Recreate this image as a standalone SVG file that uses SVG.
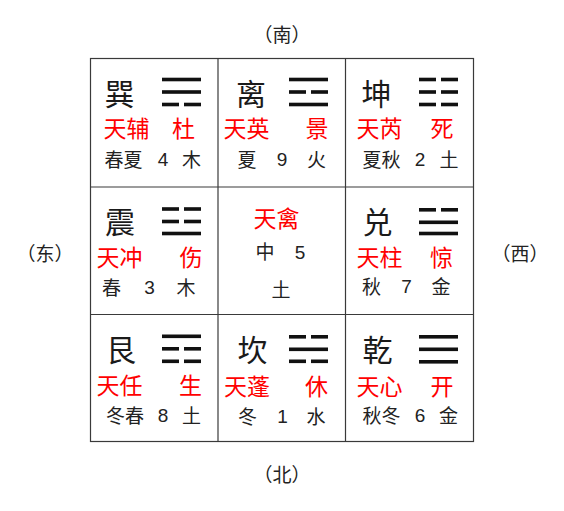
<svg xmlns="http://www.w3.org/2000/svg" xmlns:xlink="http://www.w3.org/1999/xlink" width="564" height="511" viewBox="0 0 564 511">
<style>
text{font-family:"Noto Sans CJK SC","Noto Sans CJK JP",sans-serif;text-anchor:middle}
.big{font-size:30px;fill:#1a1a1a}
.red{font-size:23px;fill:#ff0000}
.blk{font-size:19px;fill:#222}
.num{font-family:"Liberation Sans","Noto Sans CJK SC",sans-serif;font-size:19px;fill:#222}
.dir{font-size:19px;fill:#222}
.grid{stroke:#3a3a3a;stroke-width:1.2;fill:none}
.bar{fill:#111}
</style>
<defs>
<g id="yang"><rect class="bar" x="0" y="0" width="39" height="3.6"/></g>
<g id="yin"><rect class="bar" x="0" y="0" width="17" height="3.6"/><rect class="bar" x="22" y="0" width="17" height="3.6"/></g>
</defs>
<rect width="564" height="511" fill="#fff"/>
<g id="directions">
<text class="dir" x="282" y="42">（南）</text>
<text class="dir" x="282" y="482">（北）</text>
<text class="dir" x="45" y="261">（东）</text>
<text class="dir" x="520" y="261">（西）</text>
</g>
<g id="grid-lines">
<rect class="grid" x="90.5" y="58.5" width="383" height="383"/>
<line class="grid" x1="218" y1="58.5" x2="218" y2="441.5"/>
<line class="grid" x1="345.5" y1="58.5" x2="345.5" y2="441.5"/>
<line class="grid" x1="90.5" y1="187" x2="473.5" y2="187"/>
<line class="grid" x1="90.5" y1="314.5" x2="473.5" y2="314.5"/>
</g>
<g id="cell-xun" transform="translate(90,58)">
<text class="big" x="29.5" y="47">巽</text>
<use xlink:href="#yang" x="72" y="19.7"/><use xlink:href="#yang" x="72" y="32.2"/><use xlink:href="#yin" x="72" y="44.7"/>
<text class="red" x="36.5" y="79">天辅</text><text class="red" x="93.5" y="79">杜</text>
<text class="blk" x="33.5" y="109">春夏</text><text class="num" x="73" y="108">4</text><text class="blk" x="101.5" y="109">木</text>
</g>
<g id="cell-li" transform="translate(218,58)">
<text class="big" x="33" y="47">离</text>
<use xlink:href="#yang" x="71" y="19.7"/><use xlink:href="#yin" x="71" y="32.2"/><use xlink:href="#yang" x="71" y="44.7"/>
<text class="red" x="28.5" y="79">天英</text><text class="red" x="99" y="79">景</text>
<text class="blk" x="29" y="109">夏</text><text class="num" x="64" y="108">9</text><text class="blk" x="98.5" y="109">火</text>
</g>
<g id="cell-kun" transform="translate(345,58)">
<text class="big" x="31.5" y="47">坤</text>
<use xlink:href="#yin" x="74" y="19.7"/><use xlink:href="#yin" x="74" y="32.2"/><use xlink:href="#yin" x="74" y="44.7"/>
<text class="red" x="34.5" y="79">天芮</text><text class="red" x="97" y="79">死</text>
<text class="blk" x="36.5" y="109">夏秋</text><text class="num" x="75" y="108">2</text><text class="blk" x="104" y="109">土</text>
</g>
<g id="cell-zhen" transform="translate(90,187)">
<text class="big" x="30" y="46">震</text>
<use xlink:href="#yin" x="72" y="20.2"/><use xlink:href="#yin" x="72" y="32.7"/><use xlink:href="#yang" x="72" y="44.7"/>
<text class="red" x="29.5" y="79">天冲</text><text class="red" x="101" y="79">伤</text>
<text class="blk" x="21.5" y="108">春</text><text class="num" x="59.5" y="107">3</text><text class="blk" x="96" y="108">木</text>
</g>
<g id="cell-center" transform="translate(218,187)">
<text class="red" x="58.5" y="40">天禽</text>
<text class="blk" x="47" y="72">中</text><text class="num" x="82" y="72">5</text>
<text class="blk" x="63" y="110">土</text>
</g>
<g id="cell-dui" transform="translate(345,187)">
<text class="big" x="32.5" y="46">兑</text>
<use xlink:href="#yin" x="74" y="21"/><use xlink:href="#yang" x="74" y="33.5"/><use xlink:href="#yang" x="74" y="44.7"/>
<text class="red" x="34.5" y="79">天柱</text><text class="red" x="96.5" y="79">惊</text>
<text class="blk" x="26.5" y="107">秋</text><text class="num" x="61.5" y="106">7</text><text class="blk" x="96" y="107">金</text>
</g>
<g id="cell-gen" transform="translate(90,314)">
<text class="big" x="31" y="47">艮</text>
<use xlink:href="#yang" x="72" y="20.5"/><use xlink:href="#yin" x="72" y="33"/><use xlink:href="#yin" x="72" y="45.5"/>
<text class="red" x="29.5" y="80">天任</text><text class="red" x="100.5" y="80">生</text>
<text class="blk" x="35" y="109">冬春</text><text class="num" x="73" y="108">8</text><text class="blk" x="101.5" y="109">土</text>
</g>
<g id="cell-kan" transform="translate(218,314)">
<text class="big" x="34.5" y="47">坎</text>
<use xlink:href="#yin" x="71" y="21"/><use xlink:href="#yang" x="71" y="33.5"/><use xlink:href="#yin" x="71" y="45.5"/>
<text class="red" x="29" y="81">天蓬</text><text class="red" x="98.5" y="81">休</text>
<text class="blk" x="29.5" y="110">冬</text><text class="num" x="64.5" y="109">1</text><text class="blk" x="98" y="110">水</text>
</g>
<g id="cell-qian" transform="translate(345,314)">
<text class="big" x="32.5" y="47">乾</text>
<use xlink:href="#yang" x="74" y="21"/><use xlink:href="#yang" x="74" y="33.5"/><use xlink:href="#yang" x="74" y="46"/>
<text class="red" x="34.5" y="81">天心</text><text class="red" x="97" y="81">开</text>
<text class="blk" x="36.5" y="109">秋冬</text><text class="num" x="75" y="108">6</text><text class="blk" x="103.5" y="109">金</text>
</g>
</svg>
